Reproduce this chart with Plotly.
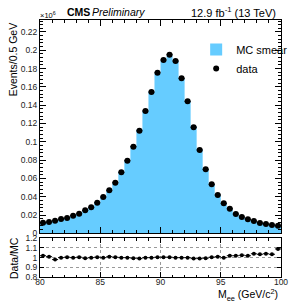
import plotly.graph_objects as go

# bin centres (GeV), 0.5 GeV bins from 80 to 100
mass_bins = [80.25 + 0.5 * i for i in range(40)]

# data events (x10^6 per 0.5 GeV)
data_events = [0.0116, 0.0123, 0.0138, 0.0156, 0.0167, 0.0193, 0.0214, 0.0251, 0.0284, 0.0335,
               0.0397, 0.0470, 0.0553, 0.0667, 0.0794, 0.0947, 0.1120, 0.1337, 0.1544, 0.1755,
               0.1894, 0.1952, 0.1883, 0.1694, 0.1443, 0.1159, 0.0910, 0.0700, 0.0536, 0.0419,
               0.0328, 0.0269, 0.0211, 0.0178, 0.0153, 0.0134, 0.0113, 0.0102, 0.0091, 0.0083]

# MC smear histogram (x10^6 per 0.5 GeV)
mc_smear = [0.0114, 0.0122, 0.0141, 0.0156, 0.0166, 0.0193, 0.0213, 0.0252, 0.0284, 0.0333,
            0.0397, 0.0465, 0.0550, 0.0667, 0.0794, 0.0952, 0.1131, 0.1337, 0.1544, 0.1746,
            0.1885, 0.1942, 0.1883, 0.1694, 0.1443, 0.1171, 0.0919, 0.0704, 0.0533, 0.0415,
            0.0328, 0.0264, 0.0207, 0.0174, 0.0150, 0.0129, 0.0109, 0.0098, 0.0088, 0.0076]

# Data/MC ratio
ratio = [1.02, 1.01, 0.98, 1.00, 1.005, 1.00, 1.005, 0.995, 1.00, 1.005,
         1.00, 1.01, 1.005, 1.00, 1.00, 0.995, 0.99, 1.00, 1.00, 1.005,
         1.005, 1.005, 1.00, 1.00, 1.00, 0.99, 0.99, 0.995, 1.005, 1.01,
         1.00, 1.02, 1.02, 1.025, 1.02, 1.04, 1.035, 1.04, 1.035, 1.09]

ratio_err = [0.006] * 40
half_bin = [0.25] * 40

main_ytick_vals = [0, 0.02, 0.04, 0.06, 0.08, 0.1, 0.12, 0.14, 0.16, 0.18, 0.2, 0.22]
main_ytick_text = ["0", "0.02", "0.04", "0.06", "0.08", "0.1", "0.12", "0.14", "0.16", "0.18", "0.2", "0.22"]
ratio_ytick_vals = [0.8, 0.9, 1.0, 1.1, 1.2]
ratio_ytick_text = ["0.8", "0.9", "1", "1.1", "1.2"]
xtick_vals = [80, 85, 90, 95, 100]
xtick_text = ["80", "85", "90", "95", "100"]

FONT = "Liberation Sans, Arial, sans-serif"
BLUE = "#66CCFF"

# step outline of the MC histogram: left edges + closing edge
step_x = [c - 0.25 for c in mass_bins] + [mass_bins[-1] + 0.25]
step_y = mc_smear + [mc_smear[-1]]

fig = go.Figure()
fig.add_trace(go.Scatter(x=step_x, y=step_y, mode="lines", line=dict(shape="hv", width=0, color=BLUE),
                         fill="tozeroy", fillcolor=BLUE, name="MC smear", xaxis="x", yaxis="y",
                         showlegend=False, hoverinfo="skip"))
# legend proxy for the filled histogram
fig.add_trace(go.Bar(x=[None], y=[None], marker=dict(color=BLUE, line=dict(width=0)),
                     name="MC smear", xaxis="x", yaxis="y"))
fig.add_trace(go.Scatter(x=mass_bins, y=data_events, mode="markers", name="data",
                         marker=dict(color="black", size=6),
                         error_x=dict(type="data", array=half_bin, color="black", thickness=1, width=0),
                         xaxis="x", yaxis="y"))
fig.add_trace(go.Scatter(x=mass_bins, y=ratio, mode="markers", showlegend=False,
                         marker=dict(color="black", size=4),
                         error_x=dict(type="data", array=half_bin, color="black", thickness=1, width=0),
                         error_y=dict(type="data", array=ratio_err, color="black", thickness=1, width=0),
                         xaxis="x2", yaxis="y2"))

H_TOP = 20
H_BOT = 28
plot_h = 305 - H_TOP - H_BOT
main_bottom = (277 - 233.3) / plot_h
ratio_top = (277 - 238.3) / plot_h

axis_common = dict(showline=True, linecolor="black", linewidth=1, mirror="ticks",
                   ticks="inside", tickcolor="black", zeroline=False,
                   tickfont=dict(family=FONT, size=8.5, color="#222"))

fig.update_layout(
    width=305, height=305,
    margin=dict(l=40, r=12, t=H_TOP, b=H_BOT),
    paper_bgcolor="white", plot_bgcolor="white",
    bargap=0,
    hovermode=False,
    font=dict(family=FONT, color="black"),
    xaxis=dict(domain=[0, 1], anchor="y", range=[80, 100], showticklabels=False,
               tickvals=xtick_vals, ticklen=6,
               minor=dict(dtick=1, ticks="inside", ticklen=3, tickcolor="black"),
               showgrid=False, **axis_common),
    yaxis=dict(domain=[main_bottom, 1], anchor="x", range=[0, 0.2331],
               tickvals=main_ytick_vals, ticktext=main_ytick_text, ticklen=6,
               minor=dict(dtick=0.004, ticks="inside", ticklen=3, tickcolor="black"),
               showgrid=False, **axis_common),
    xaxis2=dict(domain=[0, 1], anchor="y2", range=[80, 100],
                tickvals=xtick_vals, ticktext=xtick_text, ticklen=5,
                ticklabelstandoff=-3,
                minor=dict(dtick=1, ticks="inside", ticklen=2.5, tickcolor="black"),
                showgrid=True, gridcolor="#999", griddash="dot", gridwidth=1,
                **axis_common),
    yaxis2=dict(domain=[0, ratio_top], anchor="x2", range=[0.8, 1.2],
                tickvals=ratio_ytick_vals, ticktext=ratio_ytick_text, ticklen=4,
                showgrid=True, gridcolor="#999", griddash="dot", gridwidth=1,
                **axis_common),
    legend=dict(x=0.648, y=0.942, xanchor="left", yanchor="top",
                bgcolor="rgba(0,0,0,0)", font=dict(family=FONT, size=11),
                itemwidth=30),
    showlegend=True,
)

ann = [
    dict(text="<b>CMS</b>", x=66, y=12, font=dict(size=10.5)),
    dict(text="<i>Preliminary</i>", x=93, y=12, font=dict(size=10.5)),
    dict(text="12.9 fb<sup>-1</sup> (13 TeV)", x=290, y=12, xanchor="right", font=dict(size=11)),
    dict(text="×10<sup>6</sup>", x=38, y=15, font=dict(size=7.5)),
    dict(text="M<sub>ee</sub> (GeV/c<sup>2</sup>)", x=292, y=295, xanchor="right", font=dict(size=10.5)),
]
annotations = []
for a in ann:
    annotations.append(dict(text=a["text"], x=(a["x"] - 40) / 253, y=(305 - a["y"] - H_BOT) / plot_h,
                            xref="paper", yref="paper", showarrow=False,
                            xanchor=a.get("xanchor", "left"), yanchor="middle",
                            font=dict(family=FONT, color="black", **a["font"])))
annotations.append(dict(text="Events/0.5 GeV", textangle=-90, x=(12 - 40) / 253, y=1.0,
                        xref="paper", yref="paper", showarrow=False, xanchor="center", yanchor="top",
                        font=dict(family=FONT, size=10.5, color="black")))
annotations.append(dict(text="Data/MC", textangle=-90, x=(12 - 40) / 253, y=ratio_top / 2,
                        xref="paper", yref="paper", showarrow=False, xanchor="center", yanchor="middle",
                        font=dict(family=FONT, size=10.5, color="black")))
fig.update_layout(annotations=annotations)

fig.write_html("out.html", config={"displayModeBar": False, "staticPlot": True},
               post_script="document.body.style.margin='0';")
